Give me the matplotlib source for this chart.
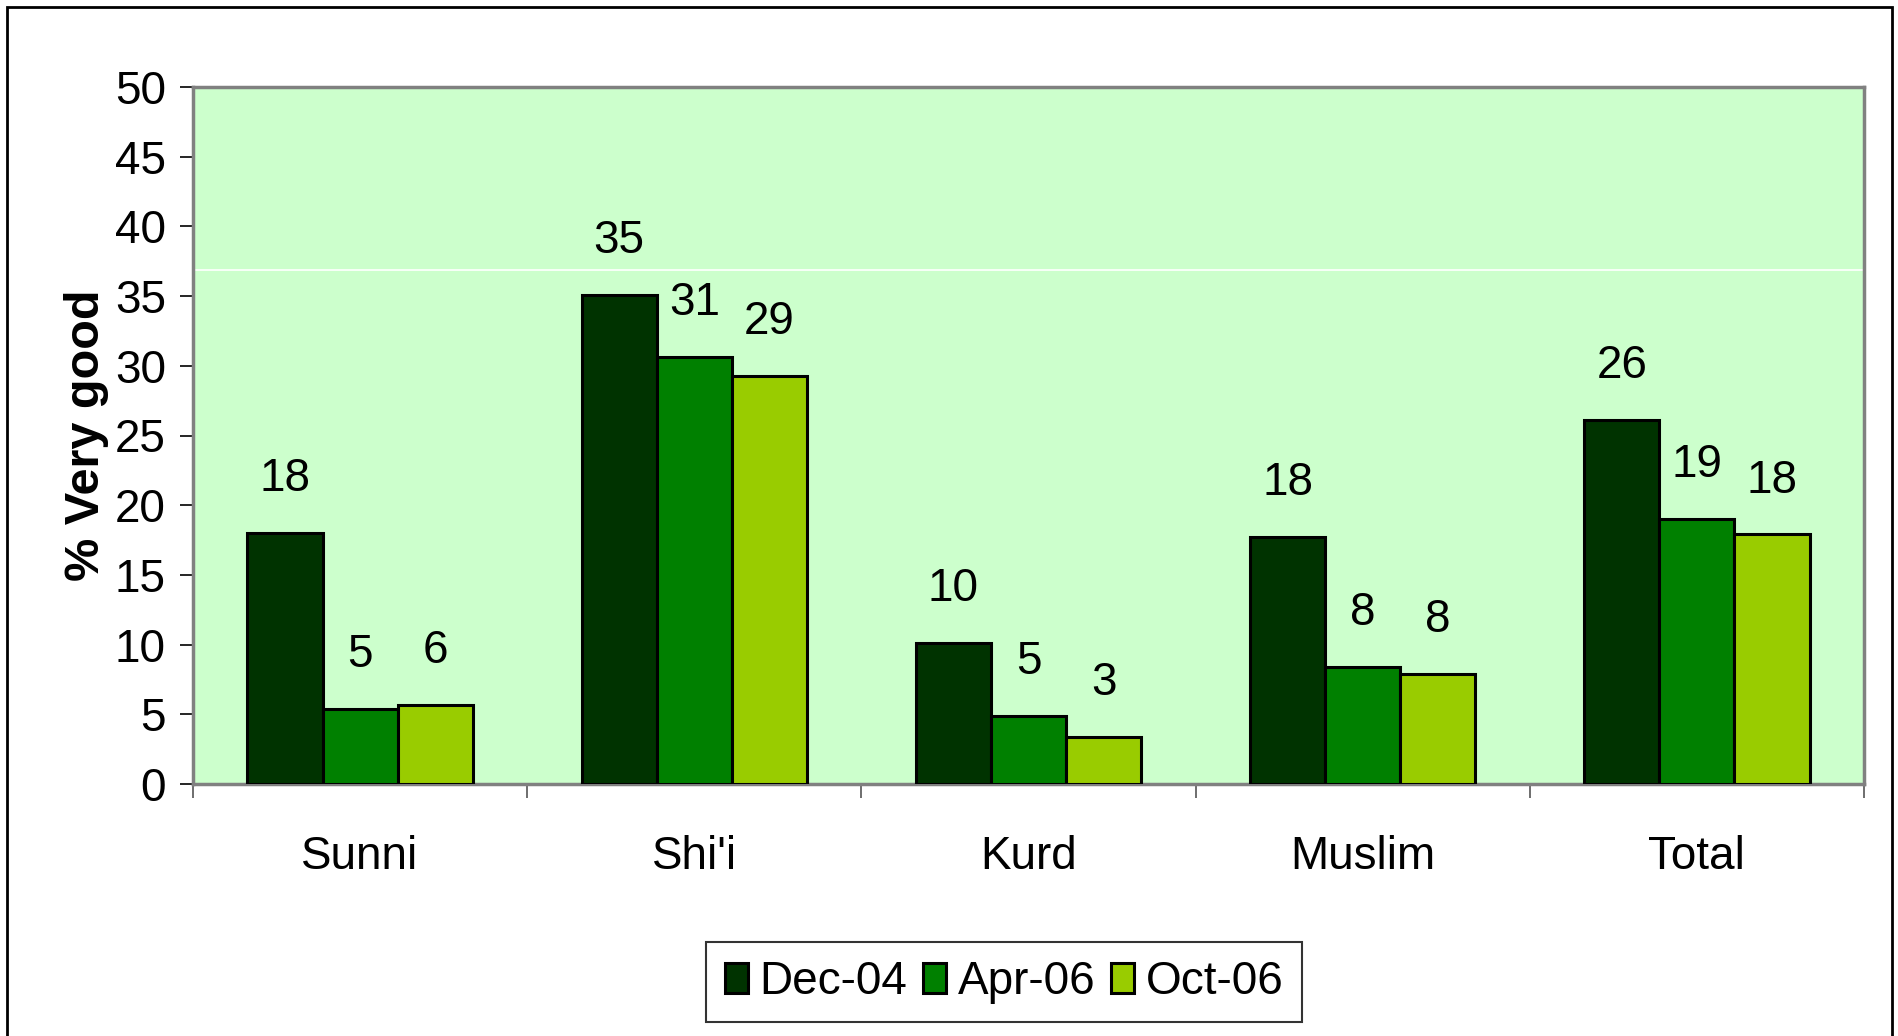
import numpy as np
import matplotlib.pyplot as plt
from matplotlib.patches import Rectangle

# data
groups = ['Sunni', "Shi'i", 'Kurd', 'Muslim', 'Total']
series = ['Dec-04', 'Apr-06', 'Oct-06']
dec04 = [18.0, 35.1, 10.1, 17.7, 26.1]
apr06 = [5.4, 30.6, 4.9, 8.4, 19.0]
oct06 = [5.7, 29.3, 3.4, 7.9, 17.9]
labels_dec04 = ['18', '35', '10', '18', '26']
labels_apr06 = ['5', '31', '5', '8', '19']
labels_oct06 = ['6', '29', '3', '8', '18']
yticks = [0, 5, 10, 15, 20, 25, 30, 35, 40, 45, 50]

colors = ['#003300', '#008000', '#99cc00']
font = ['Liberation Sans', 'DejaVu Sans']

fig = plt.figure(figsize=(18.99, 10.36), dpi=100)
ax = fig.add_axes([193/1899, 1-784/1036, (1864-193)/1899, (784-87)/1036])
ax.set_facecolor('#ccffcc')

x = np.arange(len(groups))
w = 0.225
data = [dec04, apr06, oct06]
labs = [labels_dec04, labels_apr06, labels_oct06]
for i in range(3):
    pos = x + (i-1)*w
    ax.bar(pos, data[i], width=w, color=colors[i], edgecolor='black',
           linewidth=2.2, label=series[i], zorder=3)
    for p, v, t in zip(pos, data[i], labs[i]):
        ax.annotate(t, (p, v), xytext=(0, 23), textcoords='offset points',
                    ha='center', va='bottom', fontsize=33, family=font)

# faint white line across the plot area
ax.axhline(36.9, color='white', linewidth=1.2, zorder=1)

ax.set_xlim(-0.5, 4.5)
ax.set_ylim(0, 50)
ax.set_yticks(yticks)
ax.set_yticklabels([str(t) for t in yticks], fontsize=33, family=font)
ax.tick_params(axis='y', length=9.5, width=1.2, pad=10, color='black')

ax.set_xticks(np.arange(-0.5, 5, 1))
ax.set_xticklabels([])
ax.tick_params(axis='x', which='major', length=10, width=1.2, color='#555555')
ax.set_xticks(x, minor=True)
ax.set_xticklabels(groups, minor=True, fontsize=33, family=font)
ax.tick_params(axis='x', which='minor', length=0, pad=37)

for s in ax.spines.values():
    s.set_color('#808080')
    s.set_linewidth(2.5)

ax.set_ylabel('% Very good', fontsize=35, fontweight='bold',
              family='Liberation Sans', labelpad=4)

leg = fig.legend(loc='center', bbox_to_anchor=(1004/1899, 1-982/1036), ncol=3,
                 prop={'family': font, 'size': 33}, frameon=True, fancybox=False,
                 edgecolor='black', handlelength=0.5, handleheight=0.63,
                 handletextpad=0.25, columnspacing=0.35, borderpad=0.4)
leg.get_frame().set_linewidth(1.5)

# outer chart frame
fig.patches.append(Rectangle((7/1899, -0.05), (1892-7)/1899, 1.05-7/1036,
                             transform=fig.transFigure, fill=False,
                             edgecolor='black', linewidth=2))

plt.savefig('out.png', dpi=100)
